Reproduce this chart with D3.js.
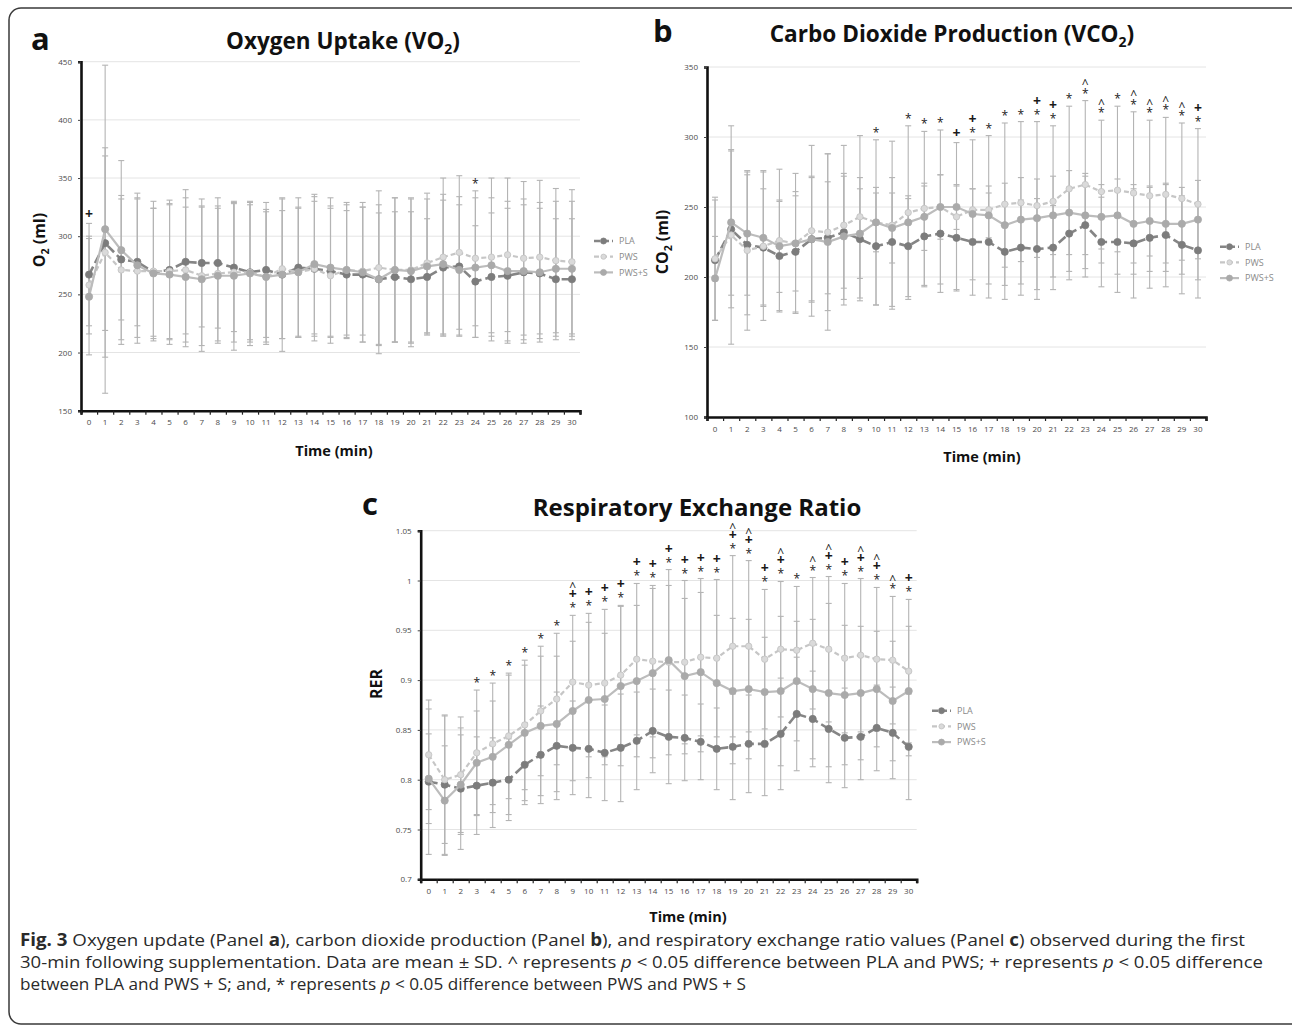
<!DOCTYPE html>
<html>
<head>
<meta charset="utf-8">
<script src="https://cdn.jsdelivr.net/npm/d3@7"></script>
<style>
  body { margin: 0; background: #fff; }
  svg { display: block; }
  text { font-family: "Open Sans", sans-serif; }
</style>
</head>
<body>
<svg id="fig" width="1292" height="1029"></svg>
<script>
// ---- data ----
const minutes = [0, 1, 2, 3, 4, 5, 6, 7, 8, 9, 10, 11, 12, 13, 14, 15, 16, 17, 18, 19, 20, 21, 22, 23, 24, 25, 26, 27, 28, 29, 30];
const seriesNames = ['PLA', 'PWS', 'PWS+S'];

// Panel a: oxygen uptake (ml)
const vo2Pla = [267, 294, 280, 278, 269, 271, 278, 277, 277, 273, 269, 271, 267, 273, 272, 270, 267, 267, 263, 265, 263, 265, 273, 274, 261, 265, 266, 269, 268, 263, 263];
const vo2Pws = [258, 286, 271, 270, 270, 270, 271, 266, 268, 269, 269, 265, 272, 269, 272, 266, 271, 270, 273, 271, 271, 277, 282, 286, 281, 282, 284, 281, 282, 279, 278];
const vo2Pwss = [248, 306, 288, 275, 268, 267, 265, 263, 266, 266, 268, 265, 267, 269, 276, 273, 271, 269, 263, 271, 270, 274, 276, 271, 273, 275, 270, 270, 269, 272, 272];
const vo2PlaSd = [44, 75, 52, 55, 55, 60, 62, 55, 56, 55, 58, 58, 55, 60, 58, 56, 55, 58, 57, 56, 58, 50, 58, 60, 48, 55, 58, 58, 56, 52, 52];
const vo2PwsSd = [42, 90, 64, 62, 60, 58, 62, 60, 58, 60, 60, 56, 60, 55, 62, 58, 58, 55, 66, 62, 62, 60, 68, 66, 58, 68, 66, 66, 66, 62, 62];
const vo2PwssSd = [50, 141, 77, 62, 56, 60, 60, 62, 58, 64, 62, 58, 66, 56, 60, 60, 56, 60, 64, 62, 62, 58, 60, 56, 60, 58, 60, 62, 60, 58, 58];
const vo2Ticks = [150, 200, 250, 300, 350, 400, 450];
const vo2Star = [24];
const vo2Plus = [0];
const vo2Caret = [];

// Panel b: carbon dioxide production (ml)
const vco2Pla = [212, 234, 223, 221, 215, 218, 227, 228, 232, 227, 222, 225, 222, 229, 231, 228, 225, 225, 218, 221, 220, 221, 231, 237, 225, 225, 224, 228, 230, 223, 219];
const vco2Pws = [213, 230, 219, 222, 226, 224, 233, 232, 237, 243, 239, 237, 246, 249, 250, 243, 248, 248, 252, 253, 251, 254, 263, 266, 261, 262, 260, 258, 259, 256, 252];
const vco2Pwss = [199, 239, 231, 228, 222, 224, 227, 225, 229, 231, 239, 235, 239, 243, 250, 250, 245, 244, 237, 241, 242, 244, 246, 244, 243, 244, 238, 240, 238, 238, 241];
const vco2PlaSd = [43, 56, 50, 42, 39, 43, 44, 40, 40, 44, 42, 46, 36, 36, 42, 37, 38, 40, 34, 34, 36, 30, 33, 37, 32, 36, 39, 36, 37, 35, 34];
const vco2PwsSd = [44, 78, 57, 53, 51, 50, 61, 56, 57, 58, 59, 60, 62, 55, 55, 53, 50, 53, 58, 58, 60, 54, 59, 60, 51, 60, 58, 54, 55, 54, 54];
const vco2PwssSd = [30, 52, 44, 48, 33, 34, 45, 63, 45, 32, 21, 25, 17, 24, 23, 16, 18, 16, 30, 30, 28, 28, 30, 28, 23, 26, 28, 25, 28, 26, 28];
const vco2Ticks = [100, 150, 200, 250, 300, 350];
const vco2Star = [10, 12, 13, 14, 16, 17, 18, 19, 20, 21, 22, 23, 24, 25, 26, 27, 28, 29, 30];
const vco2Plus = [15, 16, 20, 21, 30];
const vco2Caret = [23, 24, 26, 27, 28, 29];

// Panel c: respiratory exchange ratio
const rerPla = [0.798, 0.795, 0.791, 0.794, 0.797, 0.800, 0.815, 0.825, 0.834, 0.832, 0.831, 0.827, 0.832, 0.839, 0.849, 0.843, 0.842, 0.838, 0.831, 0.833, 0.836, 0.836, 0.846, 0.866, 0.861, 0.851, 0.842, 0.843, 0.852, 0.847, 0.833];
const rerPws = [0.825, 0.800, 0.805, 0.827, 0.836, 0.844, 0.855, 0.869, 0.881, 0.898, 0.895, 0.897, 0.905, 0.921, 0.919, 0.918, 0.918, 0.923, 0.922, 0.934, 0.934, 0.921, 0.931, 0.930, 0.937, 0.931, 0.922, 0.925, 0.921, 0.920, 0.909];
const rerPwss = [0.801, 0.779, 0.795, 0.817, 0.823, 0.835, 0.847, 0.854, 0.856, 0.869, 0.880, 0.881, 0.894, 0.899, 0.907, 0.920, 0.904, 0.908, 0.897, 0.889, 0.891, 0.888, 0.889, 0.899, 0.891, 0.887, 0.885, 0.887, 0.891, 0.879, 0.889];
const rerPlaSd = [0.073, 0.070, 0.061, 0.049, 0.045, 0.041, 0.040, 0.049, 0.054, 0.047, 0.049, 0.048, 0.054, 0.049, 0.042, 0.047, 0.043, 0.038, 0.041, 0.053, 0.049, 0.052, 0.056, 0.057, 0.048, 0.038, 0.050, 0.043, 0.043, 0.046, 0.053];
const rerPwsSd = [0.055, 0.064, 0.058, 0.063, 0.061, 0.063, 0.065, 0.065, 0.066, 0.067, 0.072, 0.074, 0.070, 0.076, 0.076, 0.093, 0.082, 0.079, 0.079, 0.091, 0.086, 0.070, 0.068, 0.064, 0.066, 0.073, 0.075, 0.077, 0.072, 0.064, 0.072];
const rerPwssSd = [0.045, 0.055, 0.050, 0.052, 0.056, 0.070, 0.068, 0.070, 0.068, 0.070, 0.078, 0.066, 0.080, 0.076, 0.085, 0.075, 0.078, 0.080, 0.068, 0.073, 0.070, 0.055, 0.075, 0.060, 0.070, 0.090, 0.070, 0.067, 0.058, 0.060, 0.065];
const rerTicks = [0.7, 0.75, 0.8, 0.85, 0.9, 0.95, 1, 1.05];
const rerStar = [3, 4, 5, 6, 7, 8, 9, 10, 11, 12, 13, 14, 15, 16, 17, 18, 19, 20, 21, 22, 23, 24, 25, 26, 27, 28, 29, 30];
const rerPlus = [9, 10, 11, 12, 13, 14, 15, 16, 17, 18, 19, 20, 21, 22, 25, 26, 27, 28, 30];
const rerCaret = [9, 19, 20, 22, 24, 25, 27, 28, 29];

// ---- styles ----
const seriesStyle = [
  { line: '#858585', dash: '9,4', width: 2.6, dot: '#7c7c7c', dotStroke: '#7c7c7c', r: 3.6 },
  { line: '#c6c6c6', dash: '5,3', width: 2.2, dot: '#dadada', dotStroke: '#c2c2c2', r: 3.2 },
  { line: '#bcbcbc', dash: null, width: 2.2, dot: '#aaaaaa', dotStroke: '#aaaaaa', r: 3.6 }
];

const svg = d3.select('#fig');
svg.append('rect').attr('width', 1292).attr('height', 1029).attr('fill', '#fff');

// outer frame
svg.append('rect')
  .attr('x', 9).attr('y', 8).attr('width', 1310).attr('height', 1016)
  .attr('rx', 12)
  .attr('fill', 'none').attr('stroke', '#3a3a3a').attr('stroke-width', 1.5);

function drawPanel(p) {
  const g = svg.append('g');
  const x = d3.scaleBand().domain(minutes).range([p.left, p.right]);
  const edge = d3.scaleLinear().domain([0, minutes.length]).range([p.left, p.right]);
  const y = d3.scaleLinear().domain(p.domain).range([p.bottom, p.top]);
  const cx = m => x(m) + x.bandwidth() / 2;

  // gridlines
  g.append('g').selectAll('line').data(p.ticks.slice(1)).join('line')
    .attr('x1', p.left).attr('x2', p.right)
    .attr('y1', d => y(d)).attr('y2', d => y(d))
    .attr('stroke', '#e4e4e4').attr('stroke-width', 1);

  // error bars
  p.means.forEach((vals, s) => {
    const sd = p.sds[s];
    const eb = g.append('g').attr('stroke', '#b4b4b4').attr('stroke-width', 1.1);
    minutes.forEach((m, i) => {
      const hi = y(vals[i] + sd[i]), lo = y(vals[i] - sd[i]);
      eb.append('line').attr('x1', cx(m)).attr('x2', cx(m)).attr('y1', hi).attr('y2', lo);
      eb.append('line').attr('x1', cx(m) - 3).attr('x2', cx(m) + 3).attr('y1', hi).attr('y2', hi);
      eb.append('line').attr('x1', cx(m) - 3).attr('x2', cx(m) + 3).attr('y1', lo).attr('y2', lo);
    });
  });

  // lines and markers
  p.means.forEach((vals, s) => {
    const st = seriesStyle[s];
    const line = d3.line().x((d, i) => cx(minutes[i])).y(d => y(d));
    g.append('path').datum(vals)
      .attr('fill', 'none').attr('stroke', st.line).attr('stroke-width', st.width)
      .attr('stroke-dasharray', st.dash)
      .attr('d', line);
    g.append('g').selectAll('circle').data(vals).join('circle')
      .attr('cx', (d, i) => cx(minutes[i])).attr('cy', d => y(d)).attr('r', st.r)
      .attr('fill', st.dot).attr('stroke', st.dotStroke).attr('stroke-width', 0.8);
  });

  // axes
  const yAxis = g.append('g').attr('transform', `translate(${p.left},0)`)
    .call(d3.axisLeft(y).tickValues(p.ticks).tickSize(3).tickPadding(6).tickFormat(d => d));
  yAxis.select('.domain').attr('stroke', '#111').attr('stroke-width', 2.6);
  yAxis.selectAll('.tick line').attr('stroke', '#444');

  const xEdge = g.append('g').attr('transform', `translate(0,${p.bottom})`)
    .call(d3.axisBottom(edge).tickValues(d3.range(0, minutes.length + 1)).tickSize(4).tickFormat(''));
  xEdge.select('.domain').attr('stroke', '#111').attr('stroke-width', 2.6);
  xEdge.selectAll('.tick line').attr('stroke', '#222').attr('stroke-width', 1.2);

  const xAxis = g.append('g').attr('transform', `translate(0,${p.bottom})`)
    .call(d3.axisBottom(x).tickSize(0).tickPadding(9));
  xAxis.select('.domain').remove();

  g.selectAll('.tick text')
    .attr('font-family', '"Open Sans", sans-serif')
    .attr('font-size', 8).attr('fill', '#4a4a4a');

  // significance symbols, stacked *, +, ^ above the highest error bar
  const order = [['*', p.star], ['+', p.plus], ['^', p.caret]];
  minutes.forEach((m, i) => {
    const topVal = d3.max(p.means, (vals, s) => vals[i] + p.sds[s][i]);
    let py = y(topVal) - 9;
    order.forEach(([sym, list]) => {
      if (!list.includes(m)) return;
      const t = g.append('text')
        .attr('x', cx(m)).attr('text-anchor', 'middle')
        .attr('fill', '#1a1a1a').text(sym);
      if (sym === '*') t.attr('y', py + 6).attr('font-size', 12);
      if (sym === '+') t.attr('y', py + 4.5).attr('font-size', 14).attr('font-weight', 700);
      if (sym === '^') t.attr('y', py + 8).attr('font-size', 12);
      py -= 11.5;
    });
  });

  // legend
  const lg = g.append('g').attr('transform', `translate(${p.legend[0]},${p.legend[1]})`);
  seriesNames.forEach((name, s) => {
    const st = seriesStyle[s];
    const row = lg.append('g').attr('transform', `translate(0,${s * 15.7})`);
    row.append('line').attr('x1', 0).attr('x2', 19).attr('y1', 0).attr('y2', 0)
      .attr('stroke', st.line).attr('stroke-width', st.width)
      .attr('stroke-dasharray', s === 0 ? '6,3' : st.dash);
    row.append('circle').attr('cx', 9.5).attr('cy', 0).attr('r', st.r - 0.6)
      .attr('fill', st.dot).attr('stroke', st.dotStroke).attr('stroke-width', 0.8);
    row.append('text').attr('x', 25).attr('y', 3.2)
      .attr('font-size', 9).attr('fill', '#8a8a8a').text(name);
  });

  // panel letter and title
  svg.append('text').attr('x', p.letter[0]).attr('y', p.letter[1])
    .attr('font-family', '"Liberation Sans", Arial, sans-serif')
    .attr('font-size', 31).attr('font-weight', 700).attr('fill', '#111').text(p.key);

  const title = svg.append('text').attr('x', p.title[0]).attr('y', p.title[1])
    .attr('text-anchor', 'middle')
    .attr('font-size', p.title[2]).attr('font-weight', 700).attr('fill', '#111');
  title.append('tspan').text(p.titleText[0]);
  if (p.titleText[1]) {
    title.append('tspan').attr('dy', 5).attr('font-size', p.title[2] * 0.62).text(p.titleText[1]);
    title.append('tspan').attr('dy', -5).text(p.titleText[2]);
  }

  // axis titles
  const yl = svg.append('text')
    .attr('transform', `translate(${p.yLabel[0]},${p.yLabel[1]}) rotate(-90)`)
    .attr('text-anchor', 'middle').attr('font-size', 16).attr('font-weight', 700).attr('fill', '#111');
  yl.append('tspan').text(p.yLabelText[0]);
  if (p.yLabelText[1]) {
    yl.append('tspan').attr('dy', 4).attr('font-size', 10.5).text(p.yLabelText[1]);
    yl.append('tspan').attr('dy', -4).text(p.yLabelText[2]);
  }
  svg.append('text').attr('x', p.xLabel[0]).attr('y', p.xLabel[1])
    .attr('text-anchor', 'middle').attr('font-size', 14.5).attr('font-weight', 700).attr('fill', '#111')
    .text('Time (min)');
}

drawPanel({
  key: 'a', left: 81, right: 580, top: 61.7, bottom: 410.7,
  domain: [150, 450], ticks: vo2Ticks,
  means: [vo2Pla, vo2Pws, vo2Pwss], sds: [vo2PlaSd, vo2PwsSd, vo2PwssSd],
  star: vo2Star, plus: vo2Plus, caret: vo2Caret,
  legend: [594, 241], letter: [31, 50],
  title: [343, 49, 22.5], titleText: ['Oxygen Uptake (VO', '2', ')'],
  yLabel: [45, 240], yLabelText: ['O', '2', ' (ml)'],
  xLabel: [334, 456]
});

drawPanel({
  key: 'b', left: 707, right: 1206, top: 67, bottom: 417,
  domain: [100, 350], ticks: vco2Ticks,
  means: [vco2Pla, vco2Pws, vco2Pwss], sds: [vco2PlaSd, vco2PwsSd, vco2PwssSd],
  star: vco2Star, plus: vco2Plus, caret: vco2Caret,
  legend: [1220, 246.7], letter: [653, 42],
  title: [952, 42, 22.6], titleText: ['Carbo Dioxide Production (VCO', '2', ')'],
  yLabel: [668, 242], yLabelText: ['CO', '2', ' (ml)'],
  xLabel: [982, 462]
});

drawPanel({
  key: 'c', left: 420.7, right: 916.7, top: 530.7, bottom: 879.3,
  domain: [0.7, 1.05], ticks: rerTicks,
  means: [rerPla, rerPws, rerPwss], sds: [rerPlaSd, rerPwsSd, rerPwssSd],
  star: rerStar, plus: rerPlus, caret: rerCaret,
  legend: [932, 710.7], letter: [362, 515],
  title: [697, 516, 24], titleText: ['Respiratory Exchange Ratio'],
  yLabel: [382, 684], yLabelText: ['RER'],
  xLabel: [688, 922]
});

// ---- caption ----
const capLines = [
  { y: 946, len: 1225, parts: [['Fig. 3', 'b'], [' Oxygen update (Panel '], ['a', 'b'], ['), carbon dioxide production (Panel '], ['b', 'b'], ['), and respiratory exchange ratio values (Panel '], ['c', 'b'], [') observed during the first']] },
  { y: 968, len: 1243, parts: [['30-min following supplementation. Data are mean ± SD. ^ represents '], ['p', 'i'], [' < 0.05 difference between PLA and PWS; + represents '], ['p', 'i'], [' < 0.05 difference']] },
  { y: 990, len: 726, parts: [['between PLA and PWS + S; and, * represents '], ['p', 'i'], [' < 0.05 difference between PWS and PWS + S']] }
];
capLines.forEach(l => {
  const t = svg.append('text').attr('x', 20).attr('y', l.y)
    .attr('font-size', 17).attr('fill', '#2a2a2a')
    .attr('textLength', l.len).attr('lengthAdjust', 'spacingAndGlyphs')
    .style('white-space', 'pre');
  l.parts.forEach(([txt, f]) => {
    const sp = t.append('tspan').text(txt);
    if (f === 'b') sp.attr('font-weight', 700);
    if (f === 'i') sp.attr('font-style', 'italic');
  });
});
</script>
</body>
</html>
